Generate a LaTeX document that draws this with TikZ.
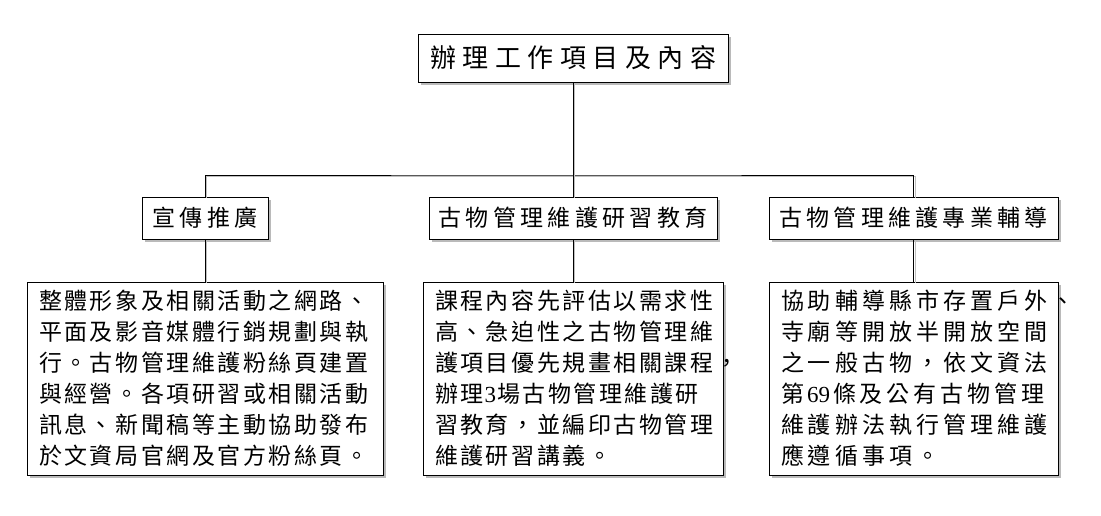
\documentclass[tikz,border=0pt]{standalone}
\usepackage{fontspec}
\usetikzlibrary{shadows}
\newfontfamily\cjkT[LetterSpace=25]{Noto Sans CJK TC}
\newfontfamily\cjkS[LetterSpace=18.7]{Noto Sans CJK TC}
\newfontfamily\cjkA[LetterSpace=10.9]{Noto Sans CJK TC}
\newfontfamily\cjkB[LetterSpace=17.4]{Noto Sans CJK TC}
\newfontfamily\lat{Liberation Serif}
\begin{document}
\begin{tikzpicture}[x=1pt,y=-1pt,
  box/.style={draw=black, line width=0.8pt, fill=white,
    drop shadow={shadow xshift=2.5pt, shadow yshift=-2.5pt, fill=black!45, opacity=0.6},
    inner sep=0pt},
  conn/.style={line width=0.8pt,
    preaction={draw=black!25, line width=1pt, transform canvas={shift={(1.5pt,-1.5pt)}}}},
  head/.style={box, minimum height=42pt, font=\cjkS\fontsize{23}{27}\selectfont},
  desc/.style={box, text width=#1, align=left, inner xsep=12pt, minimum height=193pt}
]
\useasboundingbox (0,0) rectangle (1101,515);

\node[box, minimum width=310pt, minimum height=48pt, font=\cjkT\fontsize{26}{30}\selectfont] (top) at (573,58) {辦理工作項目及內容};

\node[head, minimum width=126pt] (s1) at (205,218) {宣傳推廣};
\node[head, minimum width=288pt] (s2) at (573,218) {古物管理維護研習教育};
\node[head, minimum width=289pt] (s3) at (913.5,218) {古物管理維護專業輔導};

\node[desc=332pt, font=\cjkA\fontsize{23}{31}\selectfont] (d1) at (205,378.5) {整體形象及相關活動之網路、\\
平面及影音媒體行銷規劃與執\\
行。古物管理維護粉絲頁建置\\
與經營。各項研習或相關活動\\
訊息、新聞稿等主動協助發布\\
於文資局官網及官方粉絲頁。};

\node[desc=276pt, font=\cjkA\fontsize{23}{31}\selectfont] (d2) at (573,378.5) {課程內容先評估以需求性\\
高、急迫性之古物管理維\\
護項目優先規畫相關課程，\\
辦理{\lat\kern1pt 3\kern1pt}場古物管理維護研\\
習教育，並編印古物管理\\
維護研習講義。};

\node[desc=265pt, font=\cjkB\fontsize{23}{31}\selectfont] (d3) at (913.5,378.5) {協助輔導縣市存置戶外、\\
寺廟等開放半開放空間\\
之一般古物，依文資法\\
第{\lat\kern3pt 69\kern3pt}條及公有古物管理\\
維護辦法執行管理維護\\
應遵循事項。};

\coordinate (bus) at (573,175);
\draw[conn] (s1.north) |- (bus) -| (s3.north);
\draw[conn] (top.south) -- (s2.north);
\draw[conn] (s1.south) -- (d1.north);
\draw[conn] (s2.south) -- (d2.north);
\draw[conn] (s3.south) -- (d3.north);
\end{tikzpicture}
\end{document}
